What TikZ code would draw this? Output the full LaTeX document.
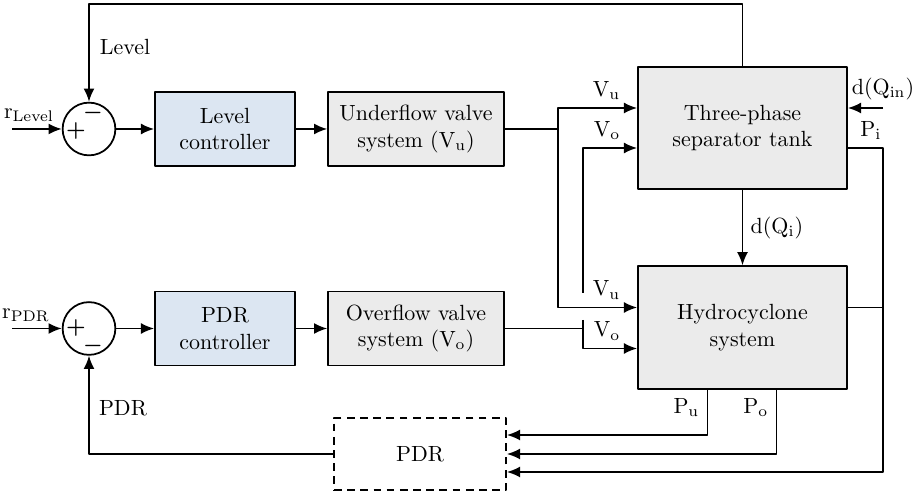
\documentclass[tikz,border=0pt]{standalone}
\usepackage{amsmath}
\usetikzlibrary{arrows.meta,calc,positioning}
\definecolor{ctrlblue}{RGB}{220,230,242}
\definecolor{plantgray}{RGB}{235,235,235}
\tikzset{
	block/.style={draw,thick,align=center,minimum height=33.7pt},
	ctrl/.style={block,fill=ctrlblue,minimum width=63.7pt},
	valve/.style={block,fill=plantgray,minimum width=80pt},
	plant/.style={block,fill=plantgray,minimum width=95.1pt,minimum height=55.8pt},
	sumnode/.style={draw,thick,circle,minimum size=24pt,inner sep=0pt},
	signnode/.style={inner sep=0pt},
	sig/.style={above left,xshift=-4pt},
}
\begin{document}
\begin{tikzpicture}[x=0.455pt,y=-0.455pt,>={Latex[length=6pt,width=5pt]},thick,line join=round]
	\useasboundingbox (0,0) rectangle (914,495);
	% level loop
	\node[sumnode] (s1) at (89,129) {};
	\node[signnode] (s1p) at (76,131) {$\boldsymbol{+}$};
	\node[signnode] (s1m) at (93,113) {$\boldsymbol{-}$};
	\node[ctrl] (lc) at (225,129) {Level\\controller};
	\node[valve] (uv) at (416,129) {Underflow valve\\system ($\mathrm{V_u}$)};
	\node[plant] (tank) at (742.5,128) {Three-phase\\separator tank};
	% pdr loop
	\node[sumnode] (s2) at (89,328.5) {};
	\node[signnode] (s2p) at (76,328) {$\boldsymbol{+}$};
	\node[signnode] (s2m) at (93,346) {$\boldsymbol{-}$};
	\node[ctrl] (pc) at (225,328.5) {PDR\\controller};
	\node[valve] (ov) at (416,328.5) {Overflow valve\\system ($\mathrm{V_o}$)};
	\node[plant] (hc) at (742.5,327.5) {Hydrocyclone\\system};
	\node[draw,thick,dashed,dash pattern=on 3.5pt off 2.5pt,minimum width=78.3pt,minimum height=32.8pt] (pdr) at (420,454) {PDR};
	% references
	\coordinate (rl) at (12,129);
	\coordinate (rp) at (12,328.5);
	\node (rlt) at (29,115) {$\mathrm{r_{Level}}$};
	\node (rpt) at (26,315) {$\mathrm{r_{PDR}}$};
	\draw[->] (rl) -- (s1.west);
	\draw[->] (rp) -- (s2.west);
	\draw[->] (s1) -- (lc);
	\draw[->] (lc) -- (uv);
	\draw[->] (s2) -- (pc);
	\draw[->] (pc) -- (ov);
	% valve signals
	\coordinate (ju) at (558,129);
	\coordinate (gt) at (583,293);
	\coordinate (gb) at (583,320);
	\draw (uv.east) -- (ju);
	\draw[->] (ju) |- ($(tank.west)+(0,-20)$) node[sig] (tvu) {$\mathrm{V_u}$};
	\draw[->] (ju) |- ($(hc.west)+(0,-20)$) node[sig] (hvu) {$\mathrm{V_u}$};
	\draw[->] (gt) |- ($(tank.west)+(0,20)$) node[sig] (tvo) {$\mathrm{V_o}$};
	\draw[->] (gb) |- ($(hc.west)+(0,21)$) node[sig] (hvo) {$\mathrm{V_o}$};
	\draw (ov.east) -- (ov.east -| gb);
	% plant
	\draw[->] (tank) -- node[right] (dqi) {$\mathrm{d(Q_i)}$} (hc);
	\coordinate (din) at (883,108);
	\draw[->] (din) node[above] (dqin) {$\mathrm{d(Q_{in})}$} -- (din -| tank.east);
	% feedback
	\draw[->] (tank.north) -- ++(0,-62) -| (s1.north);
	\node (lvl) at (125,47) {Level};
	\coordinate (rb) at (883,472);
	\coordinate (hpi) at ($(hc.east)+(0,-20)$);
	\draw[->] ($(tank.east)+(0,20)$) node[above right,xshift=2pt] (pi) {$\mathrm{P_i}$} -| (rb) -- (rb -| pdr.east);
	\draw (hpi) -- (hpi -| rb);
	\draw[->] ($(hc.south)+(-35,0)$) |- node[pos=0.2,left] (pu) {$\mathrm{P_u}$} ($(pdr.east)+(0,-19)$);
	\draw[->] ($(hc.south)+(34,0)$) |- node[pos=0.14,left] (po) {$\mathrm{P_o}$} (pdr.east);
	\draw[->] (pdr.west) -| (s2.south);
	\node (pdrl) at (123,408) {PDR};
\end{tikzpicture}
\end{document}
